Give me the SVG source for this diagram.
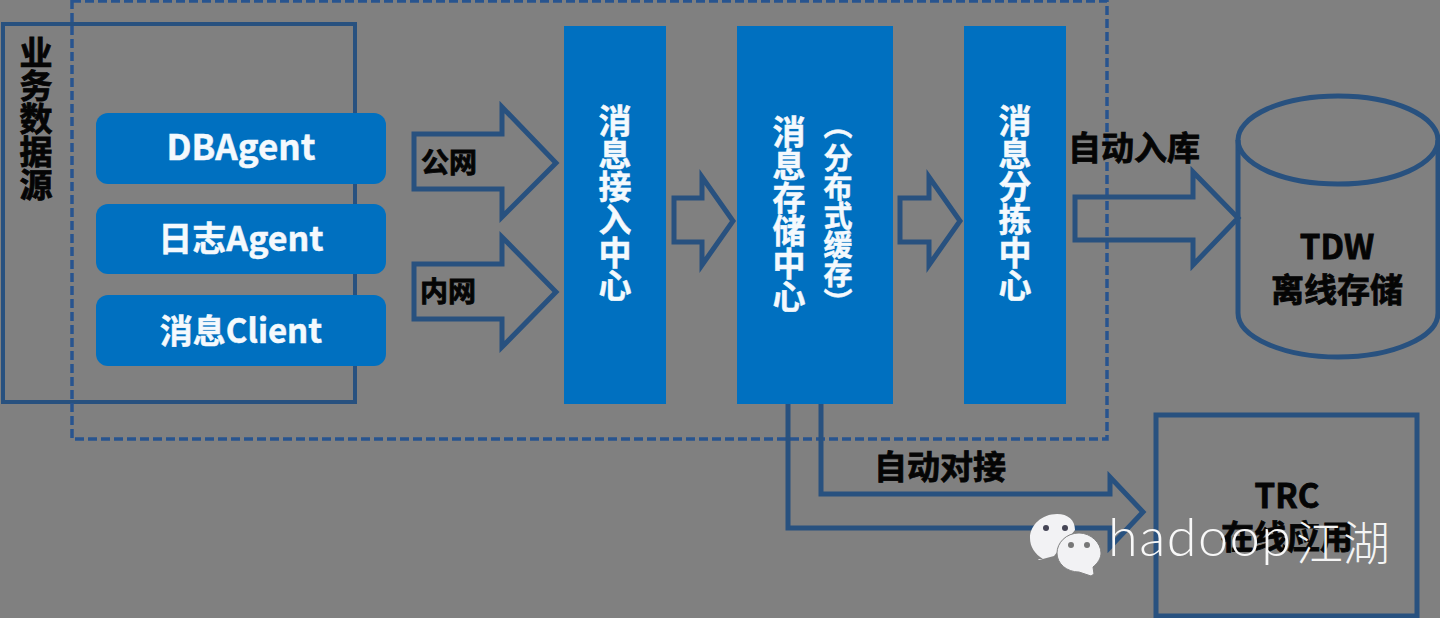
<svg xmlns="http://www.w3.org/2000/svg" width="1440" height="618" viewBox="0 0 1440 618">
<style>
text{font-family:"Noto Sans CJK SC","Noto Sans",sans-serif;font-weight:700}
.w{fill:#f4f9fd;stroke:#f4f9fd;stroke-width:.5}
.k{fill:#050505;stroke:#050505;stroke-width:.8}
.v{writing-mode:vertical-rl;text-anchor:start}
.bar{fill:#0070c0}
.agent{fill:#0070c0}
.ln{fill:none;stroke:#28517f;stroke-width:4}
.a{fill:none;stroke:#28517f;stroke-width:5}
</style>
<rect width="1440" height="618" fill="#808080"/>
<g id="source"><rect class="ln" x="3" y="24" width="352" height="378"/><text class="k v" x="36" y="36" font-size="33">业务数据源</text></g>
<g id="boundary"><rect x="72" y="1" width="1035" height="438" fill="none" stroke="#28548f" stroke-width="3.5" stroke-dasharray="9 4"/></g>
<g id="dbagent"><rect class="agent" x="96" y="113" width="290" height="71" rx="12"/><text class="w" x="241" y="160" font-size="35" text-anchor="middle">DBAgent</text></g>
<g id="logagent"><rect class="agent" x="96" y="204" width="290" height="70" rx="12"/><text class="w" x="241" y="251" font-size="34" text-anchor="middle">日志Agent</text></g>
<g id="client"><rect class="agent" x="96" y="295" width="290" height="71" rx="12"/><text class="w" x="241" y="343" font-size="33" text-anchor="middle">消息Client</text></g>
<g id="connectors">
<path class="a" d="M414 134H502V107L556 163L502 217V189H414Z"/>
<path class="a" d="M414 264H502V237L556 292L502 347V319H414Z"/>
<path class="a" d="M674 198H702V177L733 221L702 265V242H674Z"/>
<path class="a" d="M900 198H929V177L960 221L929 265V242H900Z"/>
<path class="a" d="M1075 197H1193V172L1238 218L1193 265V240H1075Z"/>
<path class="a" d="M788 404V528H1110V547L1143 512L1110 477V494H821V404"/>
</g>
<g id="labels"><text class="k" x="421" y="173" font-size="28">公网</text><text class="k" x="420" y="302" font-size="28">内网</text><text class="k" x="1068" y="160" font-size="33">自动入库</text><text class="k" x="874" y="479" font-size="33">自动对接</text></g>
<g id="access"><rect class="bar" x="564" y="26" width="102" height="378"/><text class="w v" x="615" y="104" font-size="33">消息接入中心</text></g>
<g id="storage"><rect class="bar" x="737" y="26" width="156" height="378"/><text class="w v" x="789" y="115" font-size="33">消息存储中心</text><text class="w v" x="838" y="110" font-size="29">（<tspan dy="4">分布式缓存</tspan>）</text></g>
<g id="sorting"><rect class="bar" x="964" y="26" width="102" height="378"/><text class="w v" x="1015" y="104" font-size="33">消息分拣中心</text></g>
<g id="tdw"><path class="a" d="M1238 140V313C1238 337 1283 357 1338 357S1438 337 1438 313V140"/><ellipse class="a" cx="1338" cy="140" rx="100" ry="44"/><text class="k" x="1337" y="259" font-size="33" text-anchor="middle">TDW</text><text class="k" x="1337" y="302" font-size="33" text-anchor="middle">离线存储</text></g>
<g id="trc"><rect class="a" x="1156" y="415" width="261" height="201"/><text class="k" x="1287" y="508" font-size="33" text-anchor="middle">TRC</text><text class="k" x="1287" y="549" font-size="33" text-anchor="middle">在线应用</text></g>
<g id="watermark">
<path d="M1057 514C1042 514 1030 525 1030 538C1030 547 1035 554 1043 559L1038 559L1039 560L1054 556L1075 530C1075 520 1068 514 1057 514Z" fill="#f2f2f4"/>
<path d="M1079 533C1066 533 1057 543 1057 553C1057 564 1067 572 1079 572L1091 576L1094 574L1093 567C1098 563 1101 558 1101 553C1101 543 1091 533 1079 533Z" fill="#f2f2f4" stroke="#808080" stroke-width="1"/>
<circle cx="1046" cy="528" r="3" fill="#454555"/><circle cx="1065" cy="528" r="3" fill="#454555"/><circle cx="1071" cy="545" r="3" fill="#777"/><circle cx="1087" cy="545" r="3" fill="#777"/>
<text x="1108" y="556" font-size="54" letter-spacing="1.5" fill="#f8f8f8" style="font-family:'Lato','Noto Sans',sans-serif;font-weight:300">hadoop</text>
<text x="1296" y="560" font-size="47" fill="#f4f4f4" style="font-weight:300">江湖</text>
</g>
</svg>
